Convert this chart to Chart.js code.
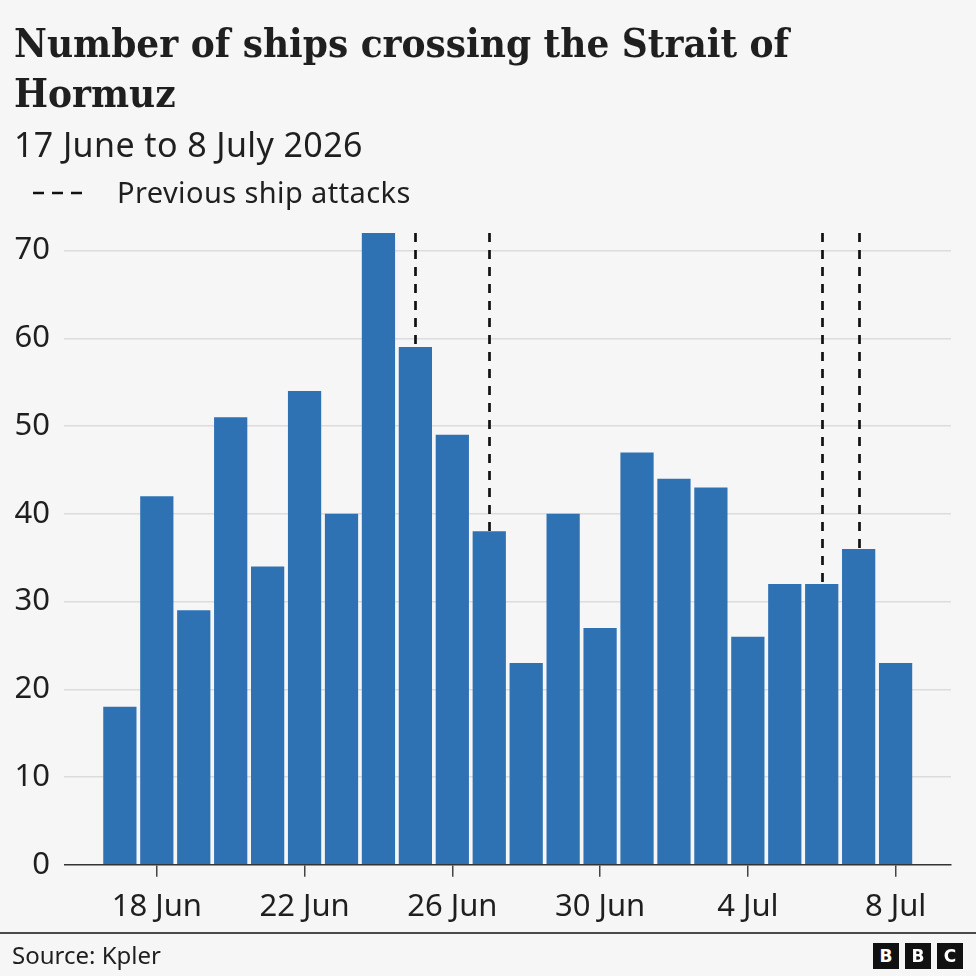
<!DOCTYPE html>
<html lang="en">
<head>
<meta charset="utf-8">
<title>Number of ships crossing the Strait of Hormuz</title>
<script src="https://cdn.jsdelivr.net/npm/chart.js@4.4.0/dist/chart.umd.min.js"></script>
<style>
  body { margin: 0; background: #f6f6f6; }
  #wrap { position: relative; width: 976px; height: 976px; overflow: hidden; font-family: 'Noto Sans', sans-serif; color: #1f1f1f; }
  #grafico-navios { position: absolute; left: 0; top: 0; }
  .titulo { position: absolute; left: 14px; top: 18px; font-family: 'DejaVu Serif Condensed', 'DejaVu Serif', serif; font-stretch: semi-condensed; font-weight: bold; font-size: 40px; line-height: 50px; color: #1f1f1f; white-space: nowrap; }
  .subtitulo { position: absolute; left: 14px; top: 127px; font-size: 34px; line-height: 34px; letter-spacing: 0.4px; }
  .legenda { position: absolute; left: 117px; top: 177px; font-size: 29px; line-height: 29px; letter-spacing: 0.4px; }
  .legenda-amostra { position: absolute; left: 30px; top: 190px; }
  .regua { position: absolute; left: 0; top: 932px; width: 976px; height: 2px; background: #4a4a4a; }
  .fonte { position: absolute; left: 12px; top: 943px; font-size: 24px; line-height: 24px; }
  .bbc { position: absolute; top: 943px; width: 26px; height: 26px; background: #111; color: #fff; font-family: 'DejaVu Sans', sans-serif; font-weight: bold; font-size: 17px; line-height: 26px; text-align: center; }
</style>
</head>
<body>
<div id="wrap">
  <canvas id="grafico-navios" width="976" height="976"></canvas>
  <div class="titulo">Number of ships crossing the Strait of<br>Hormuz</div>
  <div class="subtitulo">17 June to 8 July 2026</div>
  <svg class="legenda-amostra" width="60" height="6"><line x1="3" y1="3" x2="52" y2="3" stroke="#111" stroke-width="2.5" stroke-dasharray="11 8"/></svg>
  <div class="legenda">Previous ship attacks</div>
  <div class="regua"></div>
  <div class="fonte">Source: Kpler</div>
  <div class="bbc" style="left:873px">B</div>
  <div class="bbc" style="left:905px">B</div>
  <div class="bbc" style="left:937px">C</div>
</div>
<script>
// --- DADOS ---
const dias = ['17 Jun', '18 Jun', '19 Jun', '20 Jun', '21 Jun', '22 Jun', '23 Jun', '24 Jun',
  '25 Jun', '26 Jun', '27 Jun', '28 Jun', '29 Jun', '30 Jun', '1 Jul', '2 Jul', '3 Jul',
  '4 Jul', '5 Jul', '6 Jul', '7 Jul', '8 Jul'];
const navios = [18, 42, 29, 51, 34, 54, 40, 72, 59, 49, 38, 23, 40, 27, 47, 44, 43, 26, 32, 32, 36, 23];
const diasAtaques = ['25 Jun', '27 Jun', '6 Jul', '7 Jul'];
const rotulosX = ['18 Jun', '22 Jun', '26 Jun', '30 Jun', '4 Jul', '8 Jul'];
const rotulosY = [0, 10, 20, 30, 40, 50, 60, 70];

document.addEventListener('DOMContentLoaded', () => {
  const ctx = document.getElementById('grafico-navios');

  Chart.defaults.font.family = "'Noto Sans', sans-serif";
  Chart.defaults.color = '#1f1f1f';

  // linhas tracejadas dos ataques, desenhadas antes das barras
  const linhasAtaques = {
    id: 'linhasAtaques',
    beforeDatasetsDraw(chart) {
      const { ctx: c, scales: { x, y } } = chart;
      c.save();
      c.strokeStyle = '#111';
      c.lineWidth = 2.7;
      c.setLineDash([9, 8]);
      diasAtaques.forEach(dia => {
        const i = dias.indexOf(dia);
        const px = Math.round(x.getPixelForValue(i)) + 0.5;
        c.beginPath();
        c.moveTo(px, y.getPixelForValue(72));
        c.lineTo(px, y.getPixelForValue(navios[i]));
        c.stroke();
      });
      c.restore();
    }
  };

  new Chart(ctx, {
    type: 'bar',
    data: {
      datasets: [{
        data: navios.map((v, i) => ({ x: i, y: v })),
        backgroundColor: '#2f72b4',
        barPercentage: 0.9,
        categoryPercentage: 1
      }]
    },
    options: {
      responsive: false,
      animation: false,
      layout: { padding: { top: 233, left: 0, right: 25, bottom: 38 } },
      plugins: { legend: { display: false }, tooltip: { enabled: false } },
      scales: {
        x: {
          type: 'linear',
          offset: false,
          min: -1.5,
          max: 22.5,
          afterBuildTicks: (eixo) => {
            eixo.ticks = rotulosX.map(r => ({ value: dias.indexOf(r) }));
          },
          ticks: {
            font: { size: 31 },
            padding: 12,
            maxRotation: 0,
            autoSkip: false,
            callback: (v) => dias[v]
          },
          grid: { offset: false, drawOnChartArea: false, color: '#444', lineWidth: 1.5, tickLength: 12 },
          border: { display: true, color: '#333', width: 1.5 }
        },
        y: {
          min: 0,
          max: 72,
          afterBuildTicks: (eixo) => {
            eixo.ticks = rotulosY.map(v => ({ value: v }));
          },
          ticks: { font: { size: 31 }, padding: 14.5 },
          grid: {
            drawTicks: false,
            lineWidth: 1.5,
            color: (c) => c.tick && c.tick.value === 0 ? 'rgba(0,0,0,0)' : '#dcdcdc'
          },
          border: { display: false }
        }
      }
    },
    plugins: [linhasAtaques]
  });
});
</script>
</body>
</html>
